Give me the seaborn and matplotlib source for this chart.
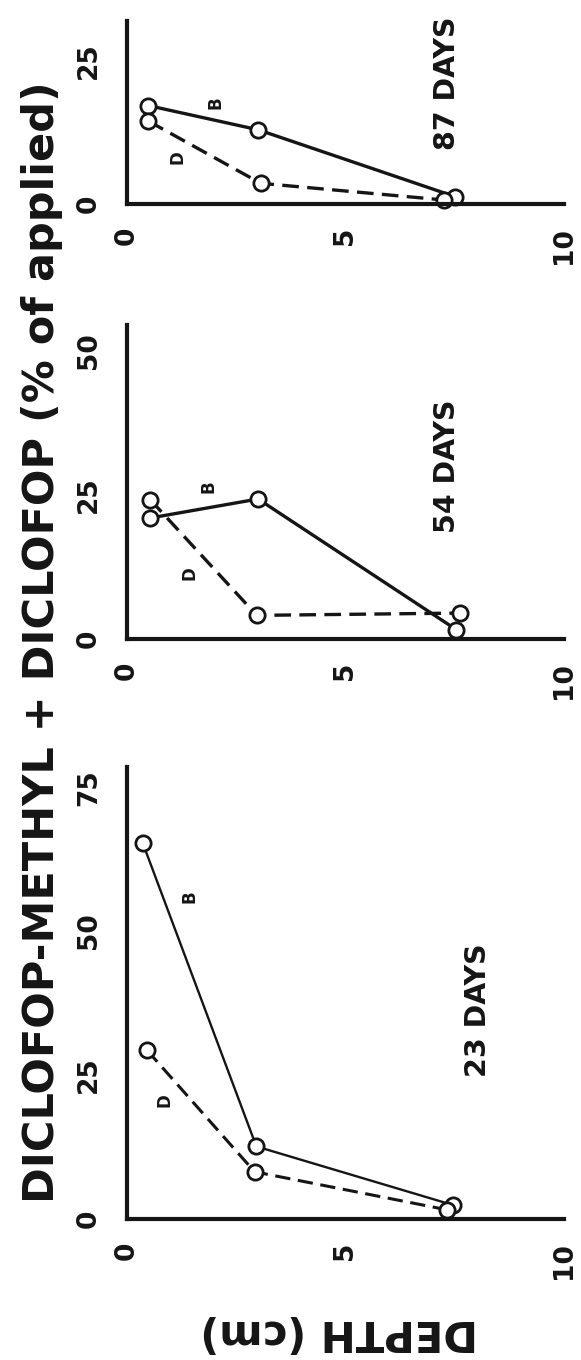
import matplotlib
matplotlib.use("Agg")
import matplotlib.pyplot as plt
import seaborn as sns
import pandas as pd

# ---- data ----
panels = ["23 DAYS", "54 DAYS", "87 DAYS"]

depth_23_B = [0.36, 2.96, 7.47]
pct_23_B = [65.3, 12.6, 2.4]
depth_23_D = [0.46, 2.92, 7.32]
pct_23_D = [29.3, 8.2, 1.6]

depth_54_B = [0.53, 3.0, 7.54]
pct_54_B = [21.0, 24.3, 1.6]
depth_54_D = [0.53, 2.97, 7.62]
pct_54_D = [24.2, 4.1, 4.5]

depth_87_B = [0.49, 3.0, 7.5]
pct_87_B = [17.1, 12.9, 1.3]
depth_87_D = [0.49, 3.06, 7.25]
pct_87_D = [14.4, 3.6, 0.7]

pct_ticks_23 = [0, 25, 50, 75]
pct_ticks_54 = [0, 25, 50]
pct_ticks_87 = [0, 25]
depth_ticks = [0, 5, 10]

title_text = "DICLOFOP-METHYL + DICLOFOP (% of applied)"
depth_label = "DEPTH (cm)"

# ---- style ----
sns.set_style("white")
plt.rcParams["font.family"] = ["DejaVu Sans"]
plt.rcParams["font.weight"] = "bold"
INK = "#151515"

fig = plt.figure(figsize=(5.81, 13.6), dpi=100)
fig.patch.set_facecolor("white")

L = 127 / 581
W = (564 - 127) / 581
layout = {
    "87 DAYS": dict(rect=[L, 0.85, W, 183 / 1360], ymax=31.8, lw=2.4,
                    days_pos=(7.32, 21.0), B_pos=(2.03, 17.6), D_pos=(1.15, 8.2)),
    "54 DAYS": dict(rect=[L, 1 - 639 / 1360, W, 314 / 1360], ymax=54.5, lw=2.4,
                    days_pos=(7.32, 30.0), B_pos=(1.86, 26.5), D_pos=(1.44, 11.5)),
    "23 DAYS": dict(rect=[L, 1 - 1219 / 1360, W, 452 / 1360], ymax=78.5, lw=1.7,
                    days_pos=(8.04, 36.3), B_pos=(1.43, 56.0), D_pos=(0.86, 20.7)),
}

data = {
    "23 DAYS": (depth_23_B, pct_23_B, depth_23_D, pct_23_D, pct_ticks_23),
    "54 DAYS": (depth_54_B, pct_54_B, depth_54_D, pct_54_D, pct_ticks_54),
    "87 DAYS": (depth_87_B, pct_87_B, depth_87_D, pct_87_D, pct_ticks_87),
}

for name in panels:
    dB, pB, dD, pD, yt = data[name]
    cfg = layout[name]
    ax = fig.add_axes(cfg["rect"])
    ax.set_facecolor("none")
    df = pd.DataFrame({
        "depth": dB + dD,
        "pct": pB + pD,
        "series": ["B"] * len(dB) + ["D"] * len(dD),
    })
    sns.lineplot(data=df, x="depth", y="pct", style="series",
                 dashes={"B": "", "D": (5, 2.5)}, markers={"B": "o", "D": "o"},
                 estimator=None, sort=False, legend=False, ax=ax,
                 color=INK, lw=cfg["lw"], ms=11, mfc="white", mec=INK, mew=2.0)
    for ln in ax.lines:
        ln.set_clip_on(False)
        ln.set_dash_capstyle("butt")
    if name == "23 DAYS":
        ax.lines[-1].set_linewidth(2.2)

    ax.set_xlim(0, 10)
    ax.set_ylim(0, cfg["ymax"])
    ax.set_xticks(depth_ticks)
    ax.set_yticks(yt)
    ax.set_xlabel("")
    ax.set_ylabel("")
    sns.despine(ax=ax)
    for s in ("left", "bottom"):
        ax.spines[s].set_linewidth(3.0)
        ax.spines[s].set_color(INK)
    ax.tick_params(axis="both", direction="out", length=9.5, width=2.6,
                   color=INK, labelcolor=INK, labelsize=19)
    ax.tick_params(axis="x", pad=7)
    ax.tick_params(axis="y", pad=8.5)
    ax.xaxis.get_major_ticks()[0].tick1line.set_visible(False)
    for lab in ax.get_xticklabels():
        lab.set_rotation(90)
        lab.set_ha("center")
        lab.set_va("top")
        lab.set_fontweight("bold")
    for lab in ax.get_yticklabels():
        lab.set_rotation(90)
        lab.set_va("center")
        lab.set_fontweight("bold")

    ax.text(*cfg["days_pos"], name, rotation=90, ha="center", va="center",
            fontsize=20.5, fontweight="bold", color=INK)
    ax.text(*cfg["B_pos"], "B", rotation=90, ha="center", va="center",
            fontsize=12, fontweight="bold", color=INK)
    ax.text(*cfg["D_pos"], "D", rotation=90, ha="center", va="center",
            fontsize=12, fontweight="bold", color=INK)

fig.text(0.072, 0.528, title_text, rotation=90, ha="center", va="center",
         fontsize=31, fontweight="bold", color=INK)
fig.text(0.5835, 0.0205, depth_label, rotation=180, ha="center", va="center",
         fontsize=30, fontweight="bold", color=INK)

fig.savefig("out.png", dpi=100, facecolor="white")
